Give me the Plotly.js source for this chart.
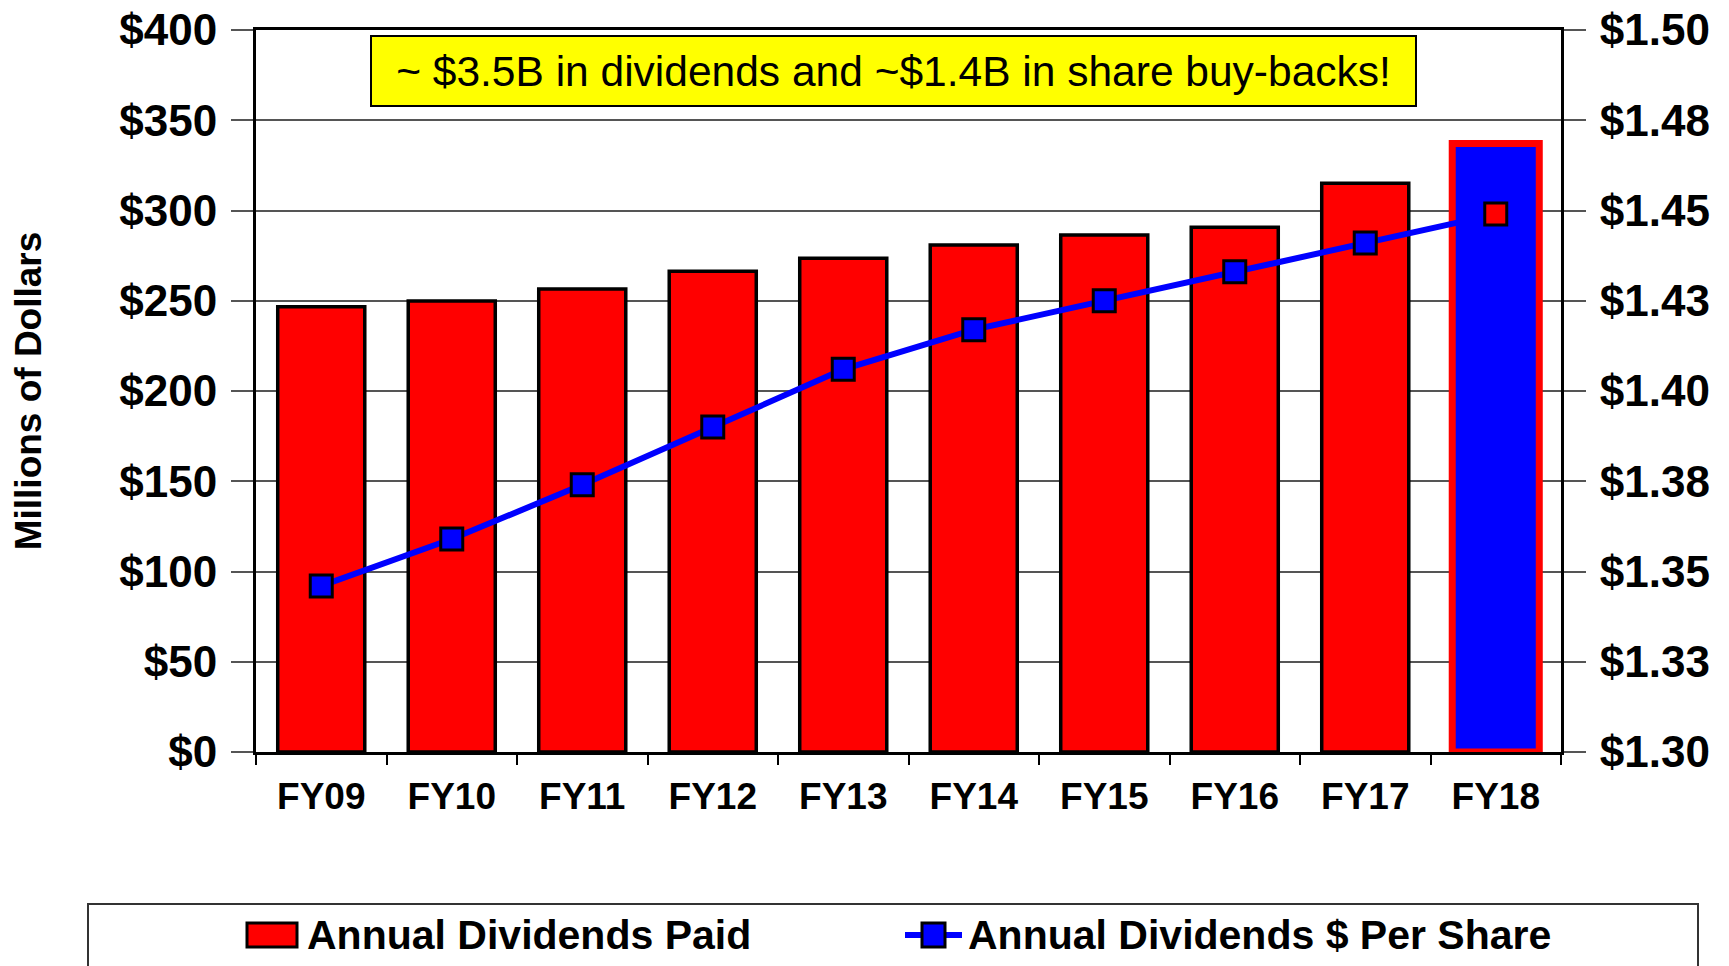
<!DOCTYPE html>
<html>
<head>
<meta charset="utf-8">
<script src="https://cdn.plot.ly/plotly-3.0.1.min.js"></script>
<style>
  html, body { margin: 0; padding: 0; background: #ffffff; }
  #chart { width: 1729px; height: 966px; }
</style>
</head>
<body>
<div id="chart"></div>
<script>
// ---- Data ----
const categories = ['FY09', 'FY10', 'FY11', 'FY12', 'FY13', 'FY14', 'FY15', 'FY16', 'FY17', 'FY18'];
const dividendsPaid = [246.7, 249.8, 256.5, 266.3, 273.6, 280.9, 286.4, 290.7, 315.1, 337.1];
const dividendsPerShare = [1.346, 1.359, 1.374, 1.390, 1.406, 1.417, 1.425, 1.433, 1.441, 1.449];
const leftTickVals = [0, 50, 100, 150, 200, 250, 300, 350, 400];
const leftTickText = ['$0', '$50', '$100', '$150', '$200', '$250', '$300', '$350', '$400'];
const rightTickVals = [1.30, 1.325, 1.35, 1.375, 1.40, 1.425, 1.45, 1.475, 1.50];
const rightTickText = ['$1.30', '$1.33', '$1.35', '$1.38', '$1.40', '$1.43', '$1.45', '$1.48', '$1.50'];
const barSeriesName = 'Annual Dividends Paid';
const lineSeriesName = 'Annual Dividends $ Per Share';
const calloutText = '~ $3.5B in dividends and ~$1.4B in share buy-backs!';
const yTitleText = 'Millions of Dollars';

// ---- Styling ----
const FONT = 'Liberation Sans, Arial, Helvetica, sans-serif';
const W = 1729, H = 966;
const M = { l: 256, r: 168, t: 30, b: 214 };
const plotW = W - M.l - M.r, plotH = H - M.t - M.b;
const px2x = p => (p - M.l) / plotW;
const py2y = p => (H - M.b - p) / plotH;

const lastIdx = categories.length - 1;
const barFill = categories.map((c, i) => i === lastIdx ? '#0000FF' : '#FF0000');
const barLineColor = categories.map((c, i) => i === lastIdx ? '#FF0000' : '#000000');
const barLineWidth = categories.map((c, i) => i === lastIdx ? 7 : 3.5);
const markerFill = categories.map((c, i) => i === lastIdx ? '#FF0000' : '#0000FF');

const barTrace = {
  type: 'bar',
  name: barSeriesName,
  x: categories,
  y: dividendsPaid,
  marker: { color: barFill, line: { color: barLineColor, width: barLineWidth } },
  hoverinfo: 'skip',
  showlegend: false
};

const lineTrace = {
  type: 'scatter',
  mode: 'lines+markers',
  name: lineSeriesName,
  x: categories,
  y: dividendsPerShare,
  yaxis: 'y2',
  line: { color: '#0000FF', width: 6 },
  marker: { symbol: 'square', size: 22, color: markerFill, line: { color: '#000000', width: 3 } },
  hoverinfo: 'skip',
  showlegend: false
};

// Legend (drawn in paper coordinates to match the large legend symbols)
const legendY = 935;
const shapes = [
  { type: 'rect', xref: 'paper', yref: 'paper',
    x0: px2x(88), x1: px2x(1698), y0: py2y(904), y1: py2y(1000),
    line: { color: '#333333', width: 2 }, fillcolor: 'rgba(0,0,0,0)' },
  { type: 'rect', xref: 'paper', yref: 'paper',
    x0: px2x(247), x1: px2x(297), y0: py2y(923), y1: py2y(947),
    line: { color: '#000000', width: 3 }, fillcolor: '#FF0000' },
  { type: 'line', xref: 'paper', yref: 'paper',
    x0: px2x(905), x1: px2x(962), y0: py2y(legendY), y1: py2y(legendY),
    line: { color: '#0000FF', width: 6 } },
  { type: 'rect', xref: 'paper', yref: 'paper',
    x0: px2x(922), x1: px2x(945), y0: py2y(legendY - 12), y1: py2y(legendY + 12),
    line: { color: '#000000', width: 3 }, fillcolor: '#0000FF' }
];

const annotations = [
  { xref: 'paper', yref: 'paper', x: px2x(893.5), y: py2y(71),
    xanchor: 'center', yanchor: 'middle', showarrow: false,
    text: calloutText, font: { family: FONT, size: 42.5, color: '#000000' },
    bgcolor: '#FFFF00', bordercolor: '#000000', borderwidth: 2, borderpad: 0,
    width: 1043, height: 68 },
  { xref: 'paper', yref: 'paper', x: px2x(305), y: py2y(legendY),
    xanchor: 'left', yanchor: 'middle', showarrow: false,
    text: barSeriesName, font: { family: FONT, size: 41, color: '#000000', weight: 'bold' } },
  { xref: 'paper', yref: 'paper', x: px2x(966), y: py2y(legendY),
    xanchor: 'left', yanchor: 'middle', showarrow: false,
    text: lineSeriesName, font: { family: FONT, size: 41, color: '#000000', weight: 'bold' } }
];

const layout = {
  width: W, height: H,
  margin: M,
  paper_bgcolor: '#ffffff', plot_bgcolor: '#ffffff',
  font: { family: FONT, color: '#000000' },
  showlegend: false,
  bargap: 0.333,
  xaxis: {
    type: 'category',
    range: [-0.5, categories.length - 0.5],
    tickson: 'boundaries',
    ticks: 'outside', ticklen: 10, tickwidth: 2, tickcolor: '#000000',
    showline: true, linecolor: '#000000', linewidth: 3, mirror: true,
    showgrid: false,
    tickfont: { family: FONT, size: 37, weight: 'bold', color: '#000000' },
    ticklabelstandoff: 10,
    fixedrange: true
  },
  yaxis: {
    range: [0, 400],
    tickvals: leftTickVals, ticktext: leftTickText,
    ticks: 'outside', ticklen: 22, tickwidth: 2, tickcolor: '#555555',
    showline: true, linecolor: '#000000', linewidth: 3,
    showgrid: true, gridcolor: '#555555', gridwidth: 2,
    zeroline: false,
    tickfont: { family: FONT, size: 44, weight: 'bold', color: '#000000' },
    ticklabelstandoff: 5,
    title: { text: yTitleText, standoff: 67, font: { family: FONT, size: 37, weight: 'bold', color: '#000000' } },
    automargin: false,
    fixedrange: true
  },
  yaxis2: {
    overlaying: 'y', side: 'right',
    range: [1.30, 1.50],
    tickvals: rightTickVals, ticktext: rightTickText,
    ticks: 'outside', ticklen: 22, tickwidth: 2, tickcolor: '#555555',
    showline: true, linecolor: '#000000', linewidth: 3,
    showgrid: false, zeroline: false,
    tickfont: { family: FONT, size: 44, weight: 'bold', color: '#000000' },
    ticklabelstandoff: 5,
    automargin: false,
    fixedrange: true
  },
  shapes: shapes,
  annotations: annotations
};

Plotly.newPlot('chart', [barTrace, lineTrace], layout, { displayModeBar: false, staticPlot: true });
</script>
</body>
</html>
